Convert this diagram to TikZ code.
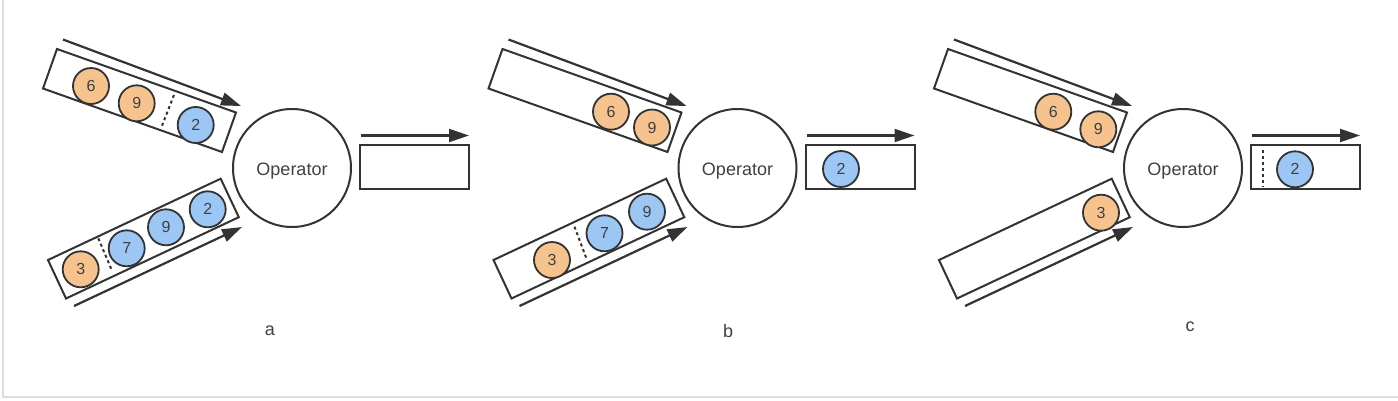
\documentclass[tikz,border=0pt]{standalone}
\usepackage{fontspec}
\setmainfont{Liberation Sans}
\usetikzlibrary{arrows.meta}
\definecolor{ink}{HTML}{333333}
\definecolor{txt}{HTML}{404040}
\definecolor{peach}{HTML}{F6C38F}
\definecolor{sky}{HTML}{9CC6F4}
\definecolor{frame}{HTML}{DCDCDC}
\tikzset{
  queue/.style={draw=ink, line width=2pt, line join=miter},
  flow/.style={draw=ink, line width=2.2pt, -{Triangle[length=20pt,width=13pt]}},
  ball/.style={circle, draw=ink, line width=1.8pt, minimum size=36pt, inner sep=0pt,
     font=\fontsize{16}{16}\selectfont, text=txt},
  oball/.style={ball, fill=peach},
  bball/.style={ball, fill=sky},
  sep/.style={draw=ink, line width=2pt, dash pattern=on 3pt off 3pt},
  opnode/.style={circle, draw=ink, line width=2pt, minimum size=118pt, inner sep=0pt},
  optext/.style={font=\fontsize{18}{18}\selectfont, text=txt, inner sep=0pt},
  lbl/.style={font=\fontsize{18}{18}\selectfont, text=txt}
}
\begin{document}
\begin{tikzpicture}[x=1pt,y=-1pt]
\useasboundingbox (0,0) rectangle (1398,400);
\draw[frame, line width=2pt] (2.5,0) -- (2.5,397) -- (1398,397);

% ---------- panel a ----------
\begin{scope}
\draw[queue] (57,49) -- (236,112.5) -- (222,152) -- (43,88.5) -- cycle;
\draw[queue] (48,260) -- (220.7,178.7) -- (238.8,217.2) -- (66,298.5) -- cycle;
\coordinate (aTs) at (63,39.5); \coordinate (aTe) at (241,106);
\coordinate (aBs) at (74,306); \coordinate (aBe) at (242,227);
\draw[flow] (aTs) -- (aTe);
\draw[flow] (aBs) -- (aBe);
\node[oball] (a6) at (91,86) {6};
\node[oball] (a9) at (136.7,103.3) {9};
\node[bball] (a2) at (195.7,125) {2};
\coordinate (aD1) at (174,95); \coordinate (aD2) at (161,128.3);
\draw[sep] (aD1) -- (aD2);
\node[oball] (a3) at (80.7,269.3) {3};
\node[bball] (a7) at (126.7,248.3) {7};
\node[bball] (a9b) at (166,227.3) {9};
\node[bball] (a2b) at (207.7,209.3) {2};
\coordinate (aE1) at (98.3,238.3); \coordinate (aE2) at (111.7,270);
\draw[sep] (aE1) -- (aE2);
\node[opnode] (aop) at (292,168) {};
\node[optext] (aopt) at (292,171) {Operator};
\draw[queue] (360,145) rectangle (469,188.5);
\coordinate (aOs) at (361,135.5); \coordinate (aOe) at (469,135.5);
\draw[flow] (aOs) -- (aOe);
\node[lbl] (alab) at (270,331) {a};
\end{scope}

% ---------- panel b ----------
\begin{scope}[xshift=445.5pt]
\draw[queue] (57,49) -- (236,112.5) -- (222,152) -- (43,88.5) -- cycle;
\draw[queue] (48,260) -- (220.7,178.7) -- (238.8,217.2) -- (66,298.5) -- cycle;
\coordinate (bTs) at (63,39.5); \coordinate (bTe) at (241,106);
\coordinate (bBs) at (74,306); \coordinate (bBe) at (242,227);
\draw[flow] (bTs) -- (bTe);
\draw[flow] (bBs) -- (bBe);
\node[oball] (b6) at (165.5,111.7) {6};
\node[oball] (b9) at (206.5,127.5) {9};
\node[oball] (b3) at (106.5,260) {3};
\node[bball] (b7) at (159,233.3) {7};
\node[bball] (b9b) at (201.5,211.7) {9};
\coordinate (bE1) at (129,226.7); \coordinate (bE2) at (141.5,260);
\draw[sep] (bE1) -- (bE2);
\node[opnode] (bop) at (292,168) {};
\node[optext] (bopt) at (292,171) {Operator};
\draw[queue] (360,145) rectangle (469,188.5);
\coordinate (bOs) at (361,135.5); \coordinate (bOe) at (469,135.5);
\draw[flow] (bOs) -- (bOe);
\node[bball] (b2) at (395.5,169) {2};
\node[lbl] (blab) at (282.5,331) {b};
\end{scope}

% ---------- panel c ----------
\begin{scope}[xshift=891pt]
\draw[queue] (57,49) -- (236,112.5) -- (222,152) -- (43,88.5) -- cycle;
\draw[queue] (48,260) -- (220.7,178.7) -- (238.8,217.2) -- (66,298.5) -- cycle;
\coordinate (cTs) at (63,39.5); \coordinate (cTe) at (241,106);
\coordinate (cBs) at (74,306); \coordinate (cBe) at (242,227);
\draw[flow] (cTs) -- (cTe);
\draw[flow] (cBs) -- (cBe);
\node[oball] (c6) at (162.3,111.7) {6};
\node[oball] (c9) at (207.3,129.3) {9};
\node[oball] (c3) at (210,212.7) {3};
\node[opnode] (cop) at (292,168) {};
\node[optext] (copt) at (292,171) {Operator};
\draw[queue] (360,145) rectangle (469,188.5);
\coordinate (cOs) at (361,135.5); \coordinate (cOe) at (469,135.5);
\draw[flow] (cOs) -- (cOe);
\coordinate (cD1) at (372.3,150); \coordinate (cD2) at (372.3,187);
\draw[sep] (cD1) -- (cD2);
\node[bball] (c2) at (404,169.3) {2};
\node[lbl] (clab) at (299,327) {c};
\end{scope}
\end{tikzpicture}
\end{document}
